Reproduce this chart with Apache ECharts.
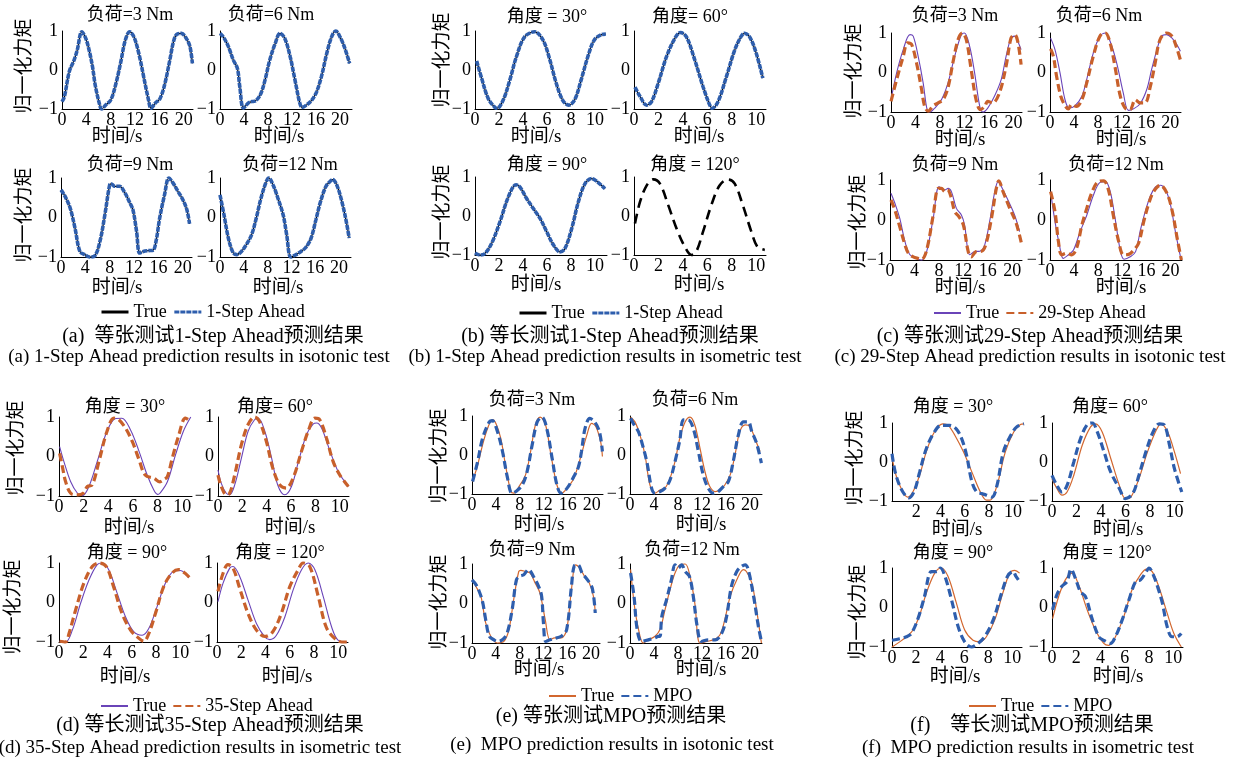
<!DOCTYPE html>
<html>
<head>
<meta charset="utf-8">
<script src="https://cdn.jsdelivr.net/npm/echarts@6/dist/echarts.min.js"></script>
<style>
html,body{margin:0;padding:0;background:#fff}
#chart{width:1242px;height:760px}
</style>
</head>
<body>
<div id="chart"></div>
<script>
// ---------- subplot titles ----------
const LOAD_TITLES  = ['负荷=3 Nm', '负荷=6 Nm', '负荷=9 Nm', '负荷=12 Nm'];
const ANGLE_TITLES = ['角度 = 30°', '角度= 60°', '角度 = 90°', '角度 = 120°'];
const X_NAME = '时间/s';
const Y_NAME = '归一化力矩';
const Y_TICKS = [-1, 0, 1];

// ---------- (a) isotonic test, 1-Step Ahead (prediction overlays the measured torque) ----------
const tonic1_3Nm = [[0,-0.81],[0.4,-0.68],[1.2,-0.04],[2.0,0.26],[2.5,0.51],[3.25,0.98],[3.9,0.81],[4.45,0.51],[5.0,0.09],[5.5,-0.43],[6.3,-0.96],[6.5,-1.0],[7.15,-0.9],[8.0,-0.77],[8.8,-0.38],[9.6,0.17],[10.4,0.77],[11.1,0.98],[11.8,0.85],[12.6,0.43],[13.4,-0.17],[14.2,-0.77],[14.6,-0.98],[15.3,-0.85],[16.1,-0.73],[16.9,-0.34],[17.7,0.26],[18.3,0.73],[18.8,0.91],[19.6,0.94],[20.4,0.81],[21.0,0.6],[21.4,0.17]];
const tonic1_6Nm = [[0,0.94],[0.55,0.85],[1.4,0.6],[2.2,0.26],[2.9,0.04],[3.3,-0.43],[3.9,-0.98],[4.7,-0.85],[5.3,-0.81],[5.8,-0.8],[6.7,-0.64],[7.5,-0.26],[8.3,0.26],[9.2,0.68],[10.0,0.94],[10.8,0.81],[11.7,0.34],[12.5,-0.26],[13.3,-0.85],[13.7,-0.96],[14.4,-0.9],[15.3,-0.77],[16.1,-0.56],[16.9,-0.17],[17.8,0.43],[18.6,0.85],[19.3,1.0],[20.0,0.85],[20.8,0.56],[21.6,0.17]];
const tonic1_9Nm = [[0,0.7],[0.65,0.54],[1.5,0.24],[2.3,-0.27],[3.1,-0.86],[3.9,-0.94],[4.7,-1.0],[5.6,-0.96],[6.4,-0.6],[7.2,0.07],[8.0,0.83],[8.3,0.85],[8.8,0.79],[9.6,0.79],[10.5,0.62],[11.3,0.37],[11.8,0.2],[12.4,-0.35],[12.9,-0.9],[13.5,-0.86],[14.3,-0.84],[15.1,-0.83],[15.6,-0.6],[16.2,-0.01],[17.0,0.58],[17.7,1.0],[18.4,0.87],[19.2,0.66],[20.0,0.45],[20.65,0.2],[21.1,-0.16]];
const tonic1_12Nm = [[0,0.57],[0.67,0.07],[1.4,-0.52],[2.2,-0.89],[2.8,-0.94],[3.6,-0.86],[4.4,-0.69],[5.3,-0.44],[6.1,-0.01],[6.9,0.5],[7.8,0.92],[8.2,1.0],[8.9,0.83],[9.7,0.5],[10.6,0.07],[11.2,-0.44],[11.9,-1.0],[12.8,-0.94],[13.6,-0.86],[14.4,-0.76],[15.3,-0.52],[16.1,-0.06],[16.9,0.41],[17.8,0.79],[18.6,0.93],[18.9,0.96],[19.7,0.79],[20.6,0.32],[21.2,-0.1],[21.7,-0.52]];

// ---------- (b) isometric test, 1-Step Ahead ----------
const metric1_30 = [[0.14,0.23],[0.55,-0.21],[1.1,-0.73],[1.66,-0.96],[1.85,-0.98],[2.35,-0.77],[2.9,-0.26],[3.45,0.34],[4.14,0.85],[4.97,0.98],[5.66,0.77],[6.2,0.3],[6.77,-0.34],[7.3,-0.77],[7.8,-0.9],[8.3,-0.77],[8.84,-0.26],[9.4,0.34],[9.94,0.77],[10.5,0.9],[10.9,0.92]];
const metric1_60 = [[0.08,-0.44],[0.5,-0.68],[1.03,-0.9],[1.44,-0.81],[1.98,-0.34],[2.66,0.34],[3.34,0.81],[3.8,0.96],[4.29,0.85],[4.97,0.26],[5.65,-0.43],[6.2,-0.9],[6.4,-0.98],[6.88,-0.81],[7.56,-0.17],[8.24,0.51],[8.78,0.87],[9.05,0.94],[9.46,0.85],[10.0,0.43],[10.54,-0.21]];
const metric1_90 = [[0,-0.95],[0.42,-1.0],[0.83,-0.96],[1.39,-0.7],[2.08,-0.15],[2.78,0.49],[3.42,0.8],[3.75,0.74],[4.3,0.45],[4.86,0.19],[5.42,-0.06],[5.97,-0.4],[6.53,-0.74],[7.08,-0.92],[7.5,-0.83],[8.06,-0.32],[8.61,0.36],[9.17,0.83],[9.72,0.96],[10.14,0.89],[10.83,0.7]];
const metric1_120 = [[0.08,-0.19],[0.49,0.36],[1.03,0.78],[1.58,0.94],[2.12,0.83],[2.8,0.28],[3.48,-0.32],[4.16,-0.79],[4.7,-1.0],[5.1,-0.91],[5.65,-0.4],[6.33,0.28],[7.0,0.78],[7.7,0.94],[8.24,0.83],[8.9,0.28],[9.6,-0.4],[10.1,-0.79],[10.7,-0.87]];

// ---------- (c) isotonic test, 29-Step Ahead ----------
const tonic29_true_3Nm = [[0,-0.69],[0.92,-0.01],[2.0,0.58],[3.1,0.96],[3.63,0.92],[4.44,0.41],[5.26,-0.27],[5.9,-0.94],[6.34,-1.0],[7.15,-0.9],[8.24,-0.69],[9.3,-0.27],[10.4,0.41],[11.5,0.96],[12.0,1.0],[12.85,0.66],[13.66,-0.01],[14.5,-0.86],[15.0,-1.0],[15.8,-0.9],[16.9,-0.6],[18.0,-0.18],[18.8,0.41],[19.6,0.87],[20.2,0.92],[20.7,0.79],[21.25,0.58]];
const tonic29_pred_3Nm = [[0,-0.73],[0.92,-0.18],[2.0,0.41],[2.7,0.75],[3.36,0.71],[4.17,0.24],[5.0,-0.43],[5.5,-0.86],[6.07,-0.98],[6.9,-0.84],[7.7,-0.77],[8.5,-0.69],[9.3,-0.39],[10.1,0.24],[10.95,0.83],[11.65,1.0],[12.3,0.83],[13.1,0.07],[13.9,-0.69],[14.6,-0.94],[15.3,-0.86],[15.8,-0.73],[16.6,-0.77],[17.7,-0.52],[18.8,0.16],[19.6,0.87],[20.2,0.96],[20.7,0.79],[21.25,0.2]];
const tonic29_true_6Nm = [[0.1,0.87],[0.83,0.58],[1.67,-0.01],[2.5,-0.69],[3.2,-0.9],[4.17,-0.84],[5.3,-0.6],[6.1,-0.18],[7.2,0.49],[8.3,0.92],[9.2,1.0],[10.0,0.79],[11.1,0.24],[12.2,-0.52],[13.05,-0.96],[13.9,-0.92],[15.0,-0.79],[16.1,-0.43],[16.9,0.07],[17.8,0.58],[18.6,0.92],[19.4,0.96],[20.3,0.87],[21.1,0.71],[21.7,0.54]];
const tonic29_pred_6Nm = [[0.1,0.6],[0.56,0.41],[1.1,-0.1],[1.8,-0.6],[2.5,-0.84],[3.05,-0.92],[3.6,-0.81],[4.4,-0.86],[5.3,-0.69],[6.1,-0.27],[7.2,0.41],[8.3,0.92],[9.2,1.0],[10.0,0.75],[10.8,0.16],[11.7,-0.6],[12.5,-0.9],[13.3,-0.94],[14.2,-0.69],[15.0,-0.77],[15.8,-0.77],[16.7,-0.35],[17.5,0.24],[18.3,0.83],[19.4,1.0],[20.3,0.92],[21.0,0.66],[21.7,0.32]];
const tonic29_true_9Nm = [[0.16,0.67],[0.8,0.42],[1.6,0.04],[2.45,-0.54],[3.26,-0.87],[4.35,-0.96],[5.2,-1.0],[6.0,-0.79],[7.07,0.04],[8.04,0.83],[8.97,0.75],[9.5,0.79],[10.05,0.71],[10.87,0.29],[11.7,0.12],[12.2,-0.12],[13.04,-0.87],[13.86,-0.79],[14.7,-0.78],[15.5,-0.62],[16.3,-0.04],[17.1,0.67],[17.7,0.96],[18.5,0.75],[19.3,0.5],[20.4,0.12],[21.2,-0.29]];
const tonic29_pred_9Nm = [[0.16,0.5],[0.8,0.25],[1.6,-0.17],[2.45,-0.62],[3.0,-0.83],[3.8,-0.92],[4.6,-0.96],[5.2,-0.98],[6.0,-0.75],[7.07,0.12],[7.9,0.79],[8.4,0.79],[9.0,0.71],[9.4,0.75],[9.9,0.62],[10.6,0.21],[11.3,0.08],[12.0,-0.12],[12.8,-0.79],[13.3,-0.92],[14.1,-0.79],[14.97,-0.78],[15.66,-0.62],[16.6,0.04],[17.4,0.79],[17.8,0.98],[18.5,0.71],[19.6,0.29],[20.65,-0.08],[21.5,-0.58]];
const tonic29_true_12Nm = [[0.1,0.71],[0.83,-0.04],[1.56,-0.62],[2.2,-0.96],[3.06,-0.87],[3.9,-0.75],[5.0,-0.29],[6.1,0.12],[7.2,0.62],[8.3,0.94],[9.2,0.96],[10.0,0.71],[10.8,0.04],[11.7,-0.79],[12.3,-0.98],[13.3,-0.92],[14.2,-0.79],[15.0,-0.25],[15.8,0.21],[16.7,0.62],[17.5,0.83],[18.3,0.87],[19.2,0.75],[20.0,0.37],[20.8,-0.29],[21.7,-0.96]];
const tonic29_pred_12Nm = [[0.1,0.71],[0.83,0.21],[1.4,-0.54],[1.94,-0.87],[2.8,-0.83],[3.6,-0.87],[4.4,-0.71],[5.3,-0.12],[6.1,0.29],[6.9,0.67],[8.0,0.96],[8.9,0.98],[9.7,0.75],[10.5,0.12],[11.4,-0.54],[12.2,-0.87],[13.05,-0.86],[13.9,-0.75],[14.7,-0.58],[15.55,-0.04],[16.4,0.42],[17.2,0.71],[18.3,0.87],[19.4,0.67],[20.3,0.21],[21.1,-0.46],[21.8,-1.0]];

// ---------- (d) isometric test, 35-Step Ahead ----------
const metric35_true_30 = [[0.05,0.25],[0.4,-0.13],[0.95,-0.64],[1.5,-0.93],[1.9,-0.99],[2.43,-0.76],[3.1,-0.13],[3.9,0.64],[4.6,0.96],[5.1,0.97],[5.8,0.68],[6.5,0.13],[7.16,-0.47],[7.7,-0.85],[8.0,-0.96],[8.2,-0.93],[8.8,-0.64],[9.46,0.04],[10.1,0.64],[10.7,1.0]];
const metric35_pred_30 = [[0.05,0.08],[0.27,-0.25],[0.54,-0.64],[0.95,-0.93],[1.5,-0.97],[1.97,-0.93],[2.3,-0.76],[2.7,-0.72],[3.24,-0.13],[3.9,0.64],[4.46,0.97],[4.86,0.93],[5.4,0.72],[5.95,0.38],[6.5,-0.08],[7.0,-0.47],[7.7,-0.55],[8.2,-0.64],[8.5,-0.59],[8.8,-0.51],[9.2,-0.04],[9.7,0.51],[10.27,0.97],[10.7,0.89]];
const metric35_true_60 = [[0,-0.34],[0.27,-0.68],[0.68,-0.93],[0.96,-0.97],[1.37,-0.72],[1.92,-0.04],[2.47,0.64],[3.0,0.93],[3.3,0.97],[3.84,0.64],[4.4,-0.04],[4.9,-0.72],[5.48,-0.97],[6.03,-0.76],[6.6,-0.13],[7.26,0.55],[7.8,0.82],[8.1,0.85],[8.5,0.72],[9.2,0.13],[9.86,-0.38],[10.7,-0.76]];
const metric35_pred_60 = [[0,-0.47],[0.27,-0.76],[0.68,-0.97],[0.96,-0.93],[1.37,-0.47],[1.92,0.3],[2.47,0.81],[3.0,1.0],[3.4,0.89],[3.97,0.38],[4.5,-0.3],[5.07,-0.72],[5.6,-0.8],[6.16,-0.55],[6.85,0.13],[7.4,0.64],[7.95,0.97],[8.35,0.93],[8.9,0.47],[9.45,-0.13],[10.0,-0.47],[10.7,-0.76]];
const metric35_true_90 = [[0.05,-0.98],[0.55,-1.0],[1.1,-0.7],[1.78,-0.02],[2.47,0.57],[3.15,0.96],[3.56,1.0],[4.1,0.83],[4.8,0.23],[5.48,-0.36],[6.16,-0.74],[6.85,-0.83],[7.4,-0.66],[8.08,-0.11],[8.77,0.49],[9.45,0.79],[10.0,0.81],[10.7,0.62]];
const metric35_pred_90 = [[0.05,-0.98],[0.55,-1.0],[0.82,-0.79],[1.37,-0.19],[2.05,0.49],[2.74,0.91],[3.3,1.0],[3.9,0.91],[4.5,0.4],[5.2,-0.28],[5.9,-0.7],[6.44,-0.87],[7.0,-0.98],[7.4,-0.79],[7.95,-0.28],[8.63,0.4],[9.3,0.74],[9.86,0.83],[10.4,0.74],[10.8,0.62]];
const metric35_true_120 = [[0.08,0.02],[0.5,0.49],[1.05,0.87],[1.32,0.91],[1.87,0.66],[2.56,0.06],[3.25,-0.53],[3.94,-0.87],[4.35,-0.94],[4.9,-0.83],[5.6,-0.36],[6.28,0.32],[6.97,0.83],[7.52,1.0],[8.07,0.83],[8.76,0.15],[9.45,-0.62],[10.0,-0.96],[10.7,-1.0]];
const metric35_pred_120 = [[0.08,0.28],[0.5,0.74],[0.9,0.96],[1.32,0.87],[1.87,0.36],[2.56,-0.28],[3.25,-0.7],[3.94,-0.86],[4.6,-0.74],[5.3,-0.28],[6.0,0.4],[6.7,0.83],[7.1,1.0],[7.65,0.91],[8.35,0.15],[9.0,-0.62],[9.7,-0.91],[10.3,-1.0],[10.7,-1.0]];

// ---------- (e) isotonic test, MPO ----------
const tonicMPO_true_3Nm = [[0.1,-0.68],[0.94,-0.26],[1.77,0.26],[2.6,0.68],[3.4,0.91],[4.0,0.81],[4.8,0.43],[5.6,-0.26],[6.5,-0.94],[7.0,-0.98],[7.85,-0.81],[8.95,-0.51],[9.8,0.09],[10.6,0.77],[11.4,0.97],[12.3,0.77],[13.1,0.09],[14.2,-0.77],[15.0,-0.98],[15.9,-0.85],[17.0,-0.6],[18.1,-0.09],[19.2,0.51],[20.0,0.81],[20.7,0.73],[21.5,0.34],[21.8,-0.04]];
const tonicMPO_pred_3Nm = [[0.1,-0.68],[0.94,-0.17],[1.77,0.43],[2.9,0.85],[3.4,0.88],[4.25,0.6],[5.1,0.09],[5.9,-0.56],[6.7,-0.98],[7.46,-0.92],[8.4,-0.77],[9.2,-0.43],[10.06,0.26],[10.9,0.85],[11.7,0.97],[12.5,0.68],[13.4,-0.09],[14.2,-0.77],[14.9,-0.98],[15.9,-0.85],[17.0,-0.56],[17.8,-0.3],[18.3,0.09],[18.9,0.68],[19.7,0.94],[20.5,0.85],[21.3,0.6],[21.8,0.09]];
const tonicMPO_true_6Nm = [[0.1,0.97],[0.83,0.85],[1.67,0.51],[2.5,0.0],[3.33,-0.77],[4.17,-0.98],[5.0,-0.9],[5.83,-0.85],[6.67,-0.6],[7.5,-0.17],[8.3,0.43],[9.2,0.85],[10.0,0.97],[10.8,0.77],[11.67,0.17],[12.5,-0.43],[13.3,-0.81],[14.2,-0.94],[15.0,-0.9],[15.8,-0.77],[16.7,-0.51],[17.5,0.0],[18.3,0.6],[19.2,0.77],[20.0,0.73],[20.8,0.43],[21.67,0.09]];
const tonicMPO_pred_6Nm = [[0.1,0.94],[0.55,0.81],[1.4,0.6],[1.94,0.34],[2.8,-0.17],[3.6,-0.85],[4.17,-0.98],[5.0,-0.94],[5.83,-0.85],[6.67,-0.64],[7.5,-0.17],[8.3,0.38],[8.9,0.9],[9.7,0.9],[10.55,0.68],[11.4,0.09],[12.2,-0.51],[13.05,-0.85],[13.9,-0.98],[14.7,-0.94],[15.55,-0.81],[16.4,-0.68],[17.2,-0.17],[18.06,0.51],[18.9,0.85],[19.7,0.85],[20.3,0.6],[21.1,0.3],[21.9,-0.21]];
const tonicMPO_true_9Nm = [[0,0.6],[0.66,0.43],[1.5,0.18],[2.3,-0.49],[3.15,-0.83],[4.25,-1.0],[5.36,-0.96],[6.2,-0.66],[7.0,0.1],[7.85,0.81],[8.2,0.84],[8.95,0.81],[9.77,0.77],[10.6,0.52],[11.4,0.27],[12.3,-0.41],[13.1,-0.92],[13.9,-0.87],[15.0,-0.87],[15.9,-0.66],[16.7,0.35],[17.4,0.98],[18.07,0.9],[18.9,0.69],[19.7,0.52],[20.4,0.18],[20.7,-0.24]];
const tonicMPO_pred_9Nm = [[0,0.6],[0.66,0.48],[1.2,0.31],[1.77,0.05],[2.3,-0.41],[2.9,-0.83],[3.7,-0.92],[4.25,-0.96],[5.1,-0.92],[5.9,-0.75],[6.74,-0.16],[7.46,0.6],[8.0,0.69],[8.7,0.73],[9.5,0.86],[10.3,0.69],[11.2,0.43],[11.7,0.18],[12.0,-0.49],[12.4,-0.96],[13.1,-0.92],[14.2,-0.87],[15.0,-0.83],[15.9,-0.66],[16.7,0.43],[17.2,0.96],[17.8,0.98],[18.5,0.77],[19.4,0.6],[20.2,0.39],[20.7,-0.24]];
const tonicMPO_true_12Nm = [[0.1,0.86],[0.83,-0.16],[1.67,-0.83],[2.2,-1.0],[3.05,-0.92],[4.17,-0.83],[5.0,-0.66],[5.83,-0.16],[6.67,0.35],[7.5,0.77],[8.33,0.98],[9.2,1.0],[10.0,0.69],[10.8,0.01],[11.67,-1.0],[12.8,-0.96],[13.9,-0.92],[15.0,-0.79],[15.8,-0.41],[16.7,0.18],[17.8,0.6],[18.9,0.86],[19.4,0.81],[20.3,0.52],[21.1,-0.16],[21.9,-1.0]];
const tonicMPO_pred_12Nm = [[0.1,0.77],[0.67,0.18],[1.2,-0.66],[1.94,-0.96],[3.05,-0.92],[4.17,-0.87],[4.7,-0.83],[5.0,-0.83],[5.3,-0.33],[6.1,0.1],[6.9,0.6],[7.5,0.98],[8.05,0.9],[8.6,0.98],[9.2,0.81],[9.9,0.69],[10.55,0.18],[11.2,-0.58],[11.9,-0.96],[13.05,-0.92],[14.2,-0.92],[15.3,-0.75],[16.1,-0.33],[16.9,0.43],[17.8,0.81],[18.6,0.94],[19.2,0.98],[19.7,0.86],[20.6,0.18],[21.4,-0.58],[21.9,-0.96]];

// ---------- (f) isometric test, MPO ----------
const metricMPO_true_30 = [[0,0.13],[0.33,-0.34],[0.9,-0.77],[1.3,-0.9],[1.72,-0.77],[2.28,-0.34],[2.83,0.26],[3.5,0.77],[4.2,0.98],[4.64,0.94],[5.2,0.68],[5.9,0.26],[6.6,-0.26],[7.3,-0.77],[7.8,-0.98],[8.1,-0.98],[8.67,-0.6],[9.36,0.26],[10.05,0.77],[10.6,0.96],[10.9,0.98]];
const metricMPO_pred_30 = [[0,0.21],[0.33,-0.34],[0.9,-0.77],[1.4,-0.92],[1.86,-0.73],[2.28,-0.26],[2.83,0.34],[3.5,0.77],[4.06,0.94],[4.75,0.94],[5.3,0.85],[5.75,0.6],[6.16,0.17],[6.6,-0.51],[7.0,-0.77],[7.4,-0.81],[7.8,-0.85],[8.25,-0.9],[8.67,-0.6],[9.2,0.26],[9.8,0.68],[10.3,0.9],[10.9,0.98]];
const metricMPO_true_60 = [[0,-0.43],[0.4,-0.68],[0.82,-0.85],[1.23,-0.77],[1.78,-0.34],[2.47,0.43],[3.15,0.9],[3.56,0.98],[4.1,0.77],[4.8,0.09],[5.5,-0.6],[6.0,-0.94],[6.44,-0.9],[7.1,-0.43],[7.8,0.26],[8.5,0.81],[8.9,0.98],[9.45,0.77],[10.0,0.26],[10.5,-0.3]];
const metricMPO_pred_60 = [[0,-0.34],[0.4,-0.6],[0.82,-0.77],[1.23,-0.6],[1.78,0.0],[2.33,0.6],[2.88,0.96],[3.3,1.0],[3.7,0.77],[4.25,0.26],[4.8,-0.26],[5.5,-0.68],[6.0,-0.94],[6.6,-0.81],[7.1,-0.34],[7.67,0.26],[8.2,0.73],[8.77,0.98],[9.2,0.94],[9.6,0.43],[10.0,-0.17],[10.6,-0.77]];
const metricMPO_true_90 = [[0,-1.0],[0.64,-0.87],[1.2,-0.74],[1.75,-0.57],[2.3,-0.19],[2.85,0.36],[3.55,0.87],[4.1,1.0],[4.65,0.79],[5.35,0.11],[6.04,-0.57],[6.73,-0.83],[7.3,-0.87],[7.84,-0.74],[8.53,-0.32],[9.2,0.36],[9.78,0.87],[10.2,0.94],[10.6,0.87]];
const metricMPO_pred_90 = [[0,-0.83],[0.64,-0.79],[1.2,-0.74],[1.6,-0.66],[2.16,-0.28],[2.7,0.28],[3.27,0.91],[3.7,0.91],[4.02,1.0],[4.4,0.79],[4.95,0.19],[5.5,-0.49],[6.04,-0.87],[6.6,-1.0],[7.15,-0.91],[7.7,-0.74],[8.4,-0.32],[9.1,0.36],[9.6,0.79],[10.05,0.91],[10.3,0.79],[10.5,0.7]];
const metricMPO_true_120 = [[0.05,-0.28],[0.55,0.28],[1.1,0.7],[1.65,0.87],[2.2,0.57],[2.9,-0.06],[3.58,-0.57],[4.27,-0.91],[4.68,-0.96],[5.23,-0.74],[5.92,-0.23],[6.6,0.45],[7.3,0.83],[7.8,0.97],[8.26,0.91],[8.8,0.53],[9.5,-0.15],[10.05,-0.66],[10.66,-1.0]];
const metricMPO_pred_120 = [[0.05,-0.06],[0.4,0.32],[0.8,0.53],[1.24,0.66],[1.57,0.97],[1.93,0.74],[2.34,0.4],[2.75,0.28],[3.3,-0.28],[3.86,-0.74],[4.27,-0.83],[4.82,-0.91],[5.23,-0.74],[5.78,-0.32],[6.34,0.19],[6.9,0.66],[7.3,0.7],[7.7,0.87],[8.0,1.0],[8.4,0.79],[8.7,0.53],[9.1,0.11],[9.5,-0.49],[9.9,-0.74],[10.3,-0.74],[10.66,-0.66]];

// ---------- styles ----------
const FONT = '"Liberation Serif","Times New Roman","Noto Sans CJK SC",serif';
const BLUE = '#2E5EAD', ORANGE = '#C8602B', ORANGE_T = '#D2672F', PURPLE = '#6A44B8';
const ST = {
  black:     {color:'#000', width:1.2},
  blackDash: {color:'#000', width:2.6, type:[10,6]},
  blueDot:   {color:BLUE, width:3.6, type:[5,1]},
  purple:    {color:PURPLE, width:1.1},
  orangeDash:{color:ORANGE, width:3.2, type:[8,4]},
  orange:    {color:ORANGE_T, width:1.2},
  blueDash:  {color:BLUE, width:3.2, type:[8,4]}
};
const FS = {tick:18, title:18, axisName:19, legend:18, captionCn:20, captionEn:19};

// ---------- panels ----------
// box = [left, top(y=1), right, bottom(y=-1)] in px; xmax = x-axis extent
const PANELS = [
  { key:'a', names:['True','1-Step Ahead'], styles:[ST.black, ST.blueDot], titles:LOAD_TITLES, step:4, legendWidth:3,
    legend:[95,298], caption:[['(a)  等张测试1-Step Ahead预测结果',213,337],['(a) 1-Step Ahead prediction results in isotonic test',199,357]],
    subs:[
      {data:[tonic1_3Nm, tonic1_3Nm],   box:[62,31,193,109],  xmax:21.5, t:[130,15],  xl:[117,137], yl:[25,66]},
      {data:[tonic1_6Nm, tonic1_6Nm],   box:[220,31,352,109], xmax:22,   t:[271,15],  xl:[279,137]},
      {data:[tonic1_9Nm, tonic1_9Nm],   box:[61,178,192,257], xmax:21.5, t:[130,165], xl:[117,288], yl:[25,215]},
      {data:[tonic1_12Nm, tonic1_12Nm], box:[220,178,351,257],xmax:22,   t:[290,165], xl:[278,288]}
    ]},
  { key:'b', names:['True','1-Step Ahead'], styles:[ST.black, ST.blueDot], titles:ANGLE_TITLES, step:2, legendWidth:3,
    legend:[513,299], caption:[['(b) 等长测试1-Step Ahead预测结果',610,337],['(b) 1-Step Ahead prediction results in isometric test',605,357]],
    subs:[
      {data:[metric1_30, metric1_30], box:[475,31,607,109], xmax:11,   t:[547,17],  xl:[536,137], yl:[443,60]},
      {data:[metric1_60, metric1_60], box:[634,31,766,109], xmax:10.8, t:[690,17],  xl:[699,137]},
      {data:[metric1_90, metric1_90], box:[475,177,607,255],xmax:11,   t:[547,165], xl:[536,285], yl:[443,212]},
      {data:[metric1_120, null],      box:[634,177,766,255],xmax:10.8, t:[695,165], xl:[699,285], trueStyle:ST.blackDash}
    ]},
  { key:'c', names:['True','29-Step Ahead'], styles:[ST.purple, ST.orangeDash], titles:LOAD_TITLES, step:4,
    legend:[928,299], caption:[['(c) 等张测试29-Step Ahead预测结果',1030,337],['(c) 29-Step Ahead prediction results in isotonic test',1030,357]],
    subs:[
      {data:[tonic29_true_3Nm, tonic29_pred_3Nm],   box:[891,33,1022,112],  xmax:21.4, t:[955,16],  xl:[960,140], yl:[855,71]},
      {data:[tonic29_true_6Nm, tonic29_pred_6Nm],   box:[1050,33,1181,112], xmax:21.8, t:[1099,16], xl:[1121,140]},
      {data:[tonic29_true_9Nm, tonic29_pred_9Nm],   box:[890,180,1022,260], xmax:21.6, t:[955,165], xl:[960,288], yl:[859,222]},
      {data:[tonic29_true_12Nm, tonic29_pred_12Nm], box:[1050,180,1182,260],xmax:21.9, t:[1116,165],xl:[1121,288]}
    ]},
  { key:'d', names:['True','35-Step Ahead'], styles:[ST.purple, ST.orangeDash], titles:ANGLE_TITLES, step:2,
    legend:[95,692], caption:[['(d) 等长测试35-Step Ahead预测结果',210,726],['(d) 35-Step Ahead prediction results in isometric test',200,748]],
    subs:[
      {data:[metric35_true_30, metric35_pred_30],   box:[59,417,192,496],  xmax:10.8,  t:[125,407], xl:[129,528], yl:[17,448]},
      {data:[metric35_true_60, metric35_pred_60],   box:[218,417,349,496], xmax:10.75, t:[275,407], xl:[290,528]},
      {data:[metric35_true_90, metric35_pred_90],   box:[59,563,190,642],  xmax:10.8,  t:[127,553], xl:[125,677], yl:[14,607]},
      {data:[metric35_true_120, metric35_pred_120], box:[217,563,348,642], xmax:10.8,  t:[280,553], xl:[287,677]}
    ]},
  { key:'e', names:['True','MPO'], styles:[ST.orange, ST.blueDash], titles:LOAD_TITLES, step:4,
    legend:[543,682], caption:[['(e) 等张测试MPO预测结果',611,717],['(e)  MPO prediction results in isotonic test',612,745]],
    subs:[
      {data:[tonicMPO_true_3Nm, tonicMPO_pred_3Nm],   box:[472,416,603,494], xmax:21.9, t:[532,400], xl:[539,525], yl:[440,456]},
      {data:[tonicMPO_true_6Nm, tonicMPO_pred_6Nm],   box:[630,416,762,494], xmax:22,   t:[695,400], xl:[701,525]},
      {data:[tonicMPO_true_9Nm, tonicMPO_pred_9Nm],   box:[472,564,600,643], xmax:21.5, t:[532,550], xl:[539,670], yl:[440,602]},
      {data:[tonicMPO_true_12Nm, tonicMPO_pred_12Nm], box:[630,564,762,643], xmax:22,   t:[692,550], xl:[701,670]}
    ]},
  { key:'f', names:['True','MPO'], styles:[ST.orange, ST.blueDash], titles:ANGLE_TITLES, step:2,
    legend:[963,692], caption:[['(f)    等长测试MPO预测结果',1032,726],['(f)  MPO prediction results in isometric test',1028,748]],
    subs:[
      {data:[metricMPO_true_30, metricMPO_pred_30],   box:[892,423,1024,501],  xmax:10.9, t:[953,407],  xl:[957,530], yl:[856,458], hideZero:true},
      {data:[metricMPO_true_60, metricMPO_pred_60],   box:[1052,423,1183,501], xmax:10.7, t:[1110,407], xl:[1118,530]},
      {data:[metricMPO_true_90, metricMPO_pred_90],   box:[892,568,1022,647],  xmax:10.8, t:[953,553],  xl:[955,677], yl:[859,612]},
      {data:[metricMPO_true_120, metricMPO_pred_120], box:[1052,568,1183,647], xmax:10.8, t:[1107,553], xl:[1118,677]}
    ]}
];

// ---------- option assembly ----------
const grid = [], xAxis = [], yAxis = [], series = [], legend = [], graphic = [];
const axisLine = {show:true, onZero:false, lineStyle:{color:'#000', width:1}};
const labelBase = {color:'#000', fontFamily:FONT, fontSize:FS.tick};

function text(str, x, y, size, rot) {
  return {type:'text', x, y, rotation: rot || 0, silent:true,
    style:{text:str, fill:'#000', font: size + 'px ' + FONT, textAlign:'center', textVerticalAlign:'middle'}};
}

PANELS.forEach(p => {
  const nTrue = p.names[0] + '|' + p.key, nPred = p.names[1] + '|' + p.key;
  p.subs.forEach((s, k) => {
    const gi = grid.length;
    const [l, t, r, b] = s.box;
    grid.push({left:l, top:t, width:r - l, height:b - t, containLabel:false});
    xAxis.push({type:'value', gridIndex:gi, min:0, max:s.xmax, interval:p.step,
      axisLine, axisTick:{show:false}, splitLine:{show:false},
      axisLabel:Object.assign({margin:2, showMaxLabel:false, showMinLabel:!s.hideZero, hideOverlap:false}, labelBase)});
    yAxis.push({type:'value', gridIndex:gi, min:Y_TICKS[0], max:Y_TICKS[2], interval:1,
      axisLine, axisTick:{show:false}, splitLine:{show:false},
      axisLabel:Object.assign({margin:4, formatter:v => v < 0 ? '\u2212' + (-v) : String(v)}, labelBase)});
    const trueStyle = s.trueStyle || p.styles[0];
    series.push({type:'line', name:nTrue, xAxisIndex:gi, yAxisIndex:gi, data:s.data[0],
      symbol:'none', smooth:0.35, clip:false, itemStyle:{color:trueStyle.color}, lineStyle:trueStyle, z:2});
    if (s.data[1]) {
      series.push({type:'line', name:nPred, xAxisIndex:gi, yAxisIndex:gi, data:s.data[1],
        symbol:'none', smooth:0.35, clip:false, itemStyle:{color:p.styles[1].color}, lineStyle:p.styles[1], z:3});
    }
    graphic.push(text(p.titles[k], s.t[0], s.t[1], FS.title));
    graphic.push(text(X_NAME, s.xl[0], s.xl[1], FS.axisName));
    if (s.yl) graphic.push(text(Y_NAME, s.yl[0], s.yl[1], FS.axisName, Math.PI / 2));
  });
  const lg = {data:[nTrue, nPred], left:p.legend[0], top:p.legend[1], orient:'horizontal',
    itemWidth:27, itemHeight:14, itemGap:6, selectedMode:false,
    itemStyle:{opacity:0},
    formatter:n => n.split('|')[0],
    textStyle:{color:'#000', fontFamily:FONT, fontSize:FS.legend}};
  if (p.legendWidth) lg.lineStyle = {width:p.legendWidth};
  legend.push(lg);
  graphic.push(text(p.caption[0][0], p.caption[0][1], p.caption[0][2], FS.captionCn));
  graphic.push(text(p.caption[1][0], p.caption[1][1], p.caption[1][2], FS.captionEn));
});

const chart = echarts.init(document.getElementById('chart'), null, {renderer:'canvas'});
chart.setOption({backgroundColor:'#fff', animation:false, grid, xAxis, yAxis, series, legend, graphic});
</script>
</body>
</html>
